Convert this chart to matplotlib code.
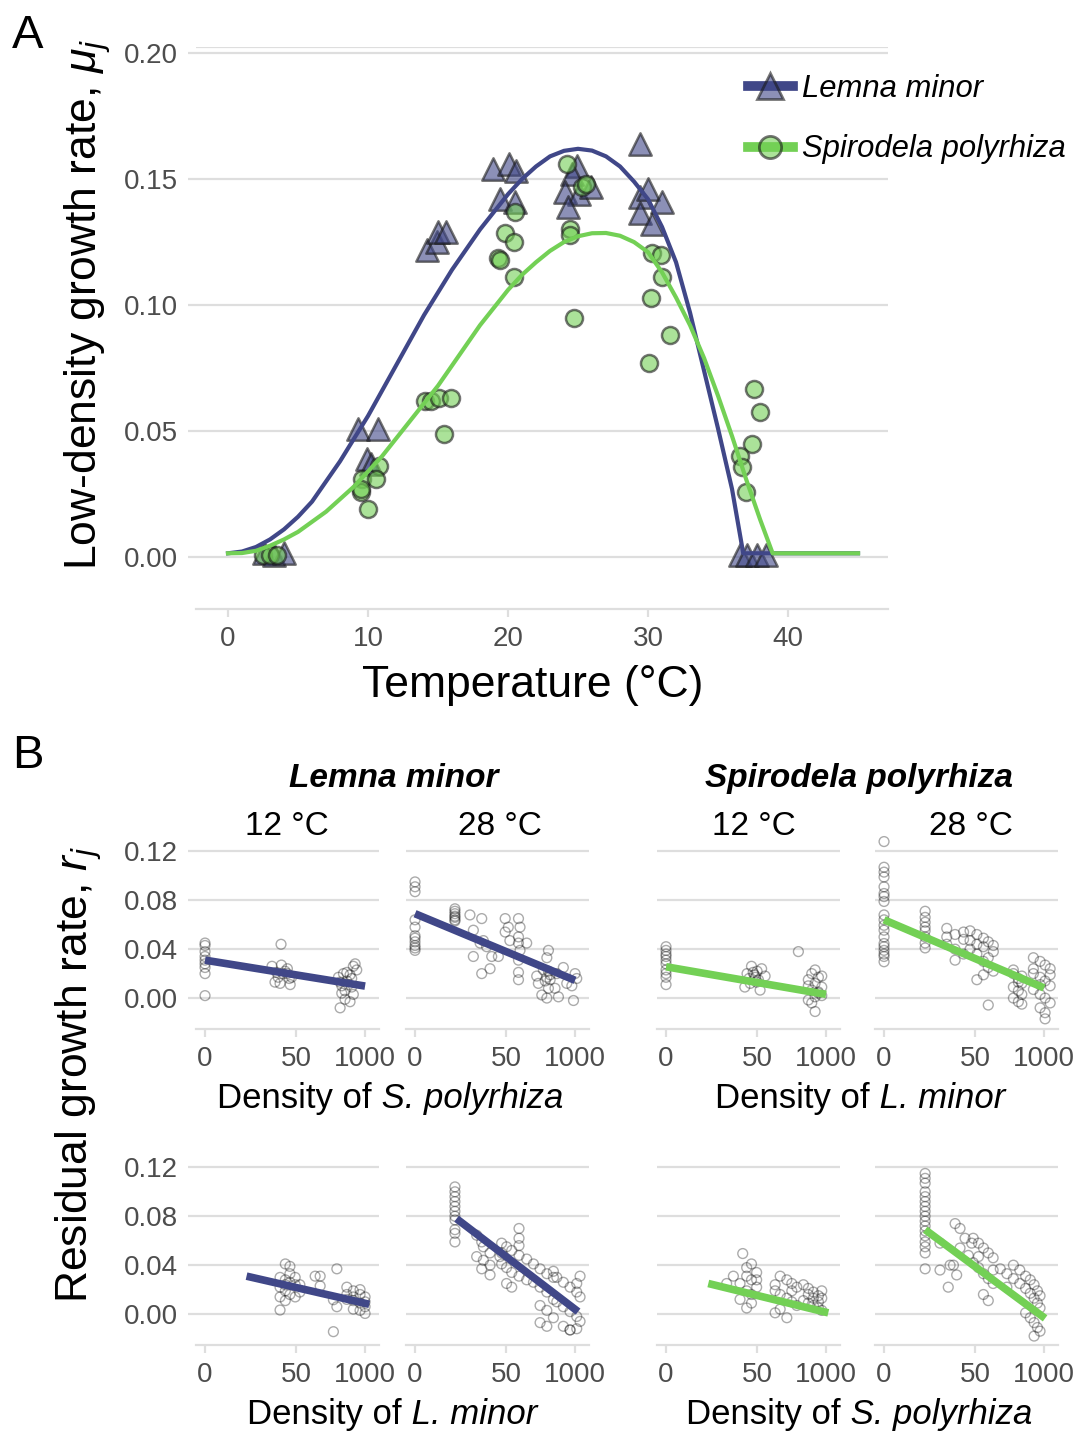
import numpy as np
import matplotlib
matplotlib.use('Agg')
import matplotlib.pyplot as plt
from matplotlib.lines import Line2D
from matplotlib.colors import to_rgba

plt.rcParams['font.family'] = ['Liberation Sans', 'DejaVu Sans']
plt.rcParams['mathtext.fontset'] = 'custom'
plt.rcParams['mathtext.rm'] = 'Liberation Sans'
plt.rcParams['mathtext.it'] = 'Liberation Sans:italic'
plt.rcParams['mathtext.bf'] = 'Liberation Sans:bold'

# ---- panel A: low-density growth rate vs temperature ----
lemna_T = [2.6, 3.3, 4.0, 9.3, 10.7, 9.9, 10.2, 14.2, 14.9, 15.0, 15.6, 18.9, 20.1, 20.6,
           19.4, 20.5, 24.9, 24.6, 24.1, 25.1, 25.9, 24.3, 29.4, 29.4, 30.0, 31.0, 29.4,
           30.3, 36.6, 37.1, 37.8, 38.4]
lemna_mu = [0.0015, 0.001, 0.0015, 0.051, 0.051, 0.039, 0.037, 0.122, 0.125, 0.129, 0.129,
            0.154, 0.156, 0.153, 0.142, 0.141, 0.155, 0.152, 0.145, 0.144, 0.147, 0.139,
            0.164, 0.143, 0.146, 0.141, 0.1365, 0.132, 0.001, 0.001, 0.001, 0.001]

spiro_T = [2.5, 3.0, 3.5, 9.6, 9.5, 10.0, 10.8, 10.6, 9.5, 14.1, 14.5, 15.1, 15.9, 15.4,
           20.5, 19.8, 20.4, 19.3, 19.4, 20.4, 24.2, 25.3, 25.6, 24.4, 24.4, 24.7, 30.3,
           30.9, 31.0, 30.2, 31.6, 30.1, 37.6, 38.0, 37.4, 36.6, 36.7, 37.0]
spiro_mu = [0.0008, 0.0008, 0.0008, 0.031, 0.026, 0.019, 0.036, 0.031, 0.027, 0.062, 0.062,
            0.063, 0.063, 0.049, 0.137, 0.1286, 0.125, 0.1186, 0.118, 0.111, 0.156, 0.147,
            0.148, 0.130, 0.128, 0.095, 0.1206, 0.120, 0.111, 0.103, 0.088, 0.077, 0.0667,
            0.0575, 0.045, 0.040, 0.0357, 0.026]

lemna_curve_T = [0, 1, 2, 3, 4, 5, 6, 7, 8, 9, 10, 11, 12, 13, 14, 15, 16, 17, 18, 19, 20,
                 21, 22, 23, 24, 25, 26, 27, 28, 29, 30, 31, 32, 33, 34, 35, 36, 36.8, 45]
lemna_curve_mu = [0.0015, 0.0022, 0.004, 0.007, 0.011, 0.016, 0.022, 0.030, 0.038, 0.047,
                  0.056, 0.066, 0.076, 0.086, 0.096, 0.105, 0.114, 0.122, 0.130, 0.137,
                  0.144, 0.150, 0.155, 0.159, 0.1612, 0.162, 0.1613, 0.159, 0.155, 0.149,
                  0.142, 0.131, 0.117, 0.097, 0.074, 0.051, 0.027, 0.0015, 0.0015]

spiro_curve_T = [0, 1, 2, 3, 4, 5, 6, 7, 8, 9, 10, 11, 12, 13, 14, 15, 16, 17, 18, 19, 20,
                 21, 22, 23, 24, 25, 26, 27, 28, 29, 30, 31, 32, 33, 34, 35, 36, 37, 38,
                 38.9, 45]
spiro_curve_mu = [0.0015, 0.0016, 0.0025, 0.0045, 0.007, 0.010, 0.014, 0.018, 0.023, 0.028,
                  0.034, 0.040, 0.047, 0.054, 0.061, 0.068, 0.076, 0.084, 0.092, 0.099,
                  0.106, 0.112, 0.117, 0.1215, 0.125, 0.1273, 0.1285, 0.1286, 0.1275, 0.1250,
                  0.121, 0.113, 0.103, 0.092, 0.079, 0.064, 0.048, 0.031, 0.015, 0.0015,
                  0.0015]

# ---- panel B: residual growth rate vs density (top row: interspecific) ----
lm12_dens = [0]*9 + [17, 19.5, 24.5, 25.6, 30.6, 34, 38.5, 41, 21, 28, 34, 26, 22.5, 37] + \
            [316, 340, 365, 392, 420, 454, 487, 522, 561, 602, 651, 698, 454, 420, 365, 522,
             561, 602, 340]
lm12_r = [0.045, 0.043, 0.038, 0.034, 0.031, 0.028, 0.025, 0.020, 0.002] + \
         [0.026, 0.013, 0.012, 0.044, 0.022, 0.020, 0.011, 0.017, 0.021, 0.020, 0.024, 0.027,
          0.017, 0.016] + \
         [0.017, 0.013, 0.004, 0.020, 0.006, 0.021, 0.011, 0.019, 0.009, 0.026, 0.028, 0.023,
          0.014, -0.001, 0.010, -0.003, 0.016, 0.003, -0.008]
lm12_fit_d = [0, 1000]
lm12_fit_r = [0.031, 0.0098]

lm28_dens = [0]*11 + [4.6]*7 + [9.7, 16.8, 11.4, 18.1, 11.4, 16.8, 24.5, 26.4, 35.5, 21, 15.6] + \
            [48, 55, 48, 86, 92, 86, 86, 92, 86, 86, 86, 123, 59] + \
            [316, 295, 254, 190, 237, 295, 316, 454, 487, 602, 698, 870, 934, 1000, 1075, 204,
             340, 420, 295, 275, 340, 316]
lm28_r = [0.095, 0.091, 0.087, 0.064, 0.058, 0.051, 0.049, 0.046, 0.043, 0.041, 0.039] + \
         [0.073, 0.071, 0.069, 0.067, 0.066, 0.064, 0.063] + \
         [0.068, 0.065, 0.0555, 0.047, 0.034, 0.020, 0.024, 0.034, 0.034, 0.042, 0.045] + \
         [0.065, 0.058, 0.054, 0.065, 0.058, 0.050, 0.045, 0.039, 0.031, 0.021, 0.015, 0.045,
          0.047] + \
         [0.039, 0.033, 0.023, 0.018, 0.0025, 0.0, 0.008, 0.020, 0.001, 0.025, 0.012, 0.010,
          -0.002, 0.020, 0.016, 0.012, 0.015, 0.008, 0.017, 0.014, 0.019, 0.022]
lm28_fit_d = [0, 1000]
lm28_fit_r = [0.069, 0.0145]

sp12_dens = [0]*10 + [32, 39, 46, 37, 53, 61, 71, 57, 29, 42, 49, 44, 50, 35] + [302] + \
            [622, 538, 718, 464, 622, 830, 538, 718, 622, 464, 538, 622, 830, 464, 718, 830]
sp12_r = [0.042, 0.039, 0.036, 0.034, 0.031, 0.028, 0.023, 0.020, 0.017, 0.011] + \
         [0.020, 0.026, 0.017, 0.012, 0.015, 0.024, 0.018, 0.0065, 0.009, 0.021, 0.013, 0.019,
          0.022, 0.016] + [0.038] + \
         [0.023, 0.020, 0.017, 0.015, 0.012, 0.009, 0.0065, 0.004, 0.001, -0.0016, -0.004,
          -0.011, 0.018, 0.010, 0.005, 0.002]
sp12_fit_d = [0, 1000]
sp12_fit_r = [0.0256, 0.003]

sp28_dens = [0]*19 + [4.9]*8 + [14, 20.5, 30, 14, 20.5, 30, 20.5, 14, 30] + \
            [40, 54, 72, 89, 111, 40, 54, 72, 89, 111, 72, 54, 89, 40, 72, 111, 54, 89] + \
            [265, 329, 382, 265, 329, 382, 265, 329, 382, 265, 329, 382] + \
            [630, 843, 1045, 1300, 630, 843, 1045, 1300, 630, 843, 1045, 1300, 843, 1045, 1045,
             630, 1300, 843]
sp28_r = [0.128, 0.107, 0.103, 0.099, 0.091, 0.0855, 0.083, 0.079, 0.068, 0.064, 0.0595,
          0.0555, 0.050, 0.0446, 0.042, 0.039, 0.036, 0.034, 0.0297] + \
         [0.071, 0.066, 0.062, 0.058, 0.055, 0.050, 0.045, 0.041] + \
         [0.057, 0.052, 0.048, 0.044, 0.040, 0.036, 0.031, 0.050, 0.054] + \
         [0.055, 0.052, 0.049, 0.046, 0.043, 0.040, 0.036, 0.030, 0.025, 0.022, 0.019, 0.015,
          -0.0057, 0.047, 0.042, 0.038, 0.044, 0.033] + \
         [0.020, 0.016, 0.012, 0.009, 0.006, 0.003, 0.000, -0.003, -0.005, 0.023, 0.013, 0.018] + \
         [0.033, 0.030, 0.027, 0.024, 0.020, 0.017, 0.014, 0.010, 0.007, 0.003, 0.000, -0.004,
          -0.008, -0.012, -0.017, 0.024, 0.019, 0.011]
sp28_fit_d = [0, 1000]
sp28_fit_r = [0.064, 0.0083]

# ---- panel B bottom row: intraspecific density ----
lm12b_dens = [31, 38, 24.5, 31, 38, 48, 24.5, 31, 38, 48, 31, 24.5, 59, 48, 38, 24.5, 59, 31] + \
             [115, 143, 143, 295, 254, 295, 254] + \
             [454, 602, 805, 1000, 454, 602, 805, 1000, 602, 805, 1000, 454, 805, 602, 1000]
lm12b_r = [0.041, 0.039, 0.030, 0.028, 0.026, 0.024, 0.022, 0.019, 0.016, 0.014, 0.011, 0.0033,
           0.024, 0.030, 0.033, 0.014, 0.018, 0.024] + \
          [0.031, 0.031, 0.023, 0.037, 0.0117, 0.006, -0.0144] + \
          [0.022, 0.019, 0.016, 0.014, 0.012, 0.011, 0.009, 0.006, 0.004, 0.003, 0.0005, 0.016,
           0.020, 0.014, 0.010]
lm12b_fit_d = [5, 1200]
lm12b_fit_r = [0.031, 0.008]

lm28b_dens = [4.6]*11 + [13.3, 16.8, 18.1, 24.5, 13.3, 18.1, 24.5, 16.8, 24.5, 38] + \
             [41, 51, 64, 88, 123, 41, 51, 64, 88, 123, 51, 64, 88, 88, 88, 41] + \
             [165, 220, 295, 392, 165, 220, 295, 392, 220, 295, 392, 220, 295, 392] + \
             [454, 602, 805, 1075, 1240, 454, 602, 805, 1075, 1240, 602, 805, 1075, 1240, 805, 1075]
lm28b_r = [0.104, 0.100, 0.096, 0.092, 0.088, 0.084, 0.080, 0.077, 0.069, 0.066, 0.059] + \
          [0.0645, 0.059, 0.055, 0.050, 0.047, 0.044, 0.040, 0.037, 0.032, 0.047] + \
          [0.058, 0.055, 0.052, 0.048, 0.045, 0.041, 0.038, 0.034, 0.031, 0.028, 0.025, 0.022,
           0.070, 0.062, 0.056, 0.050] + \
          [0.041, 0.037, 0.033, 0.030, 0.026, 0.022, 0.018, 0.012, 0.007, 0.003, -0.003, -0.007,
           -0.010, 0.035] + \
          [0.030, 0.026, 0.022, 0.018, 0.014, 0.010, 0.006, 0.002, -0.002, -0.006, -0.010,
           -0.013, 0.025, 0.031, -0.013, -0.012]
lm28b_fit_d = [5, 1140]
lm28b_fit_r = [0.078, 0.002]

sp12b_dens = [26.4, 39, 31.5, 49, 17.3, 39, 23.4, 49, 31.5, 39, 23.4, 39, 31.5, 12.7, 49, 31.5] + \
             [110, 137, 183, 227, 282, 110, 137, 183, 227, 282, 137, 110, 183, 227] + \
             [375, 464, 578, 718, 830, 375, 464, 578, 718, 830, 578, 718, 464, 830]
sp12b_r = [0.0495, 0.041, 0.038, 0.034, 0.031, 0.028, 0.025, 0.022, 0.019, 0.016, 0.012, 0.009,
           0.005, 0.025, 0.028, 0.031] + \
          [0.024, 0.031, 0.028, 0.025, 0.022, 0.019, 0.016, 0.013, 0.010, 0.007, 0.004, 0.001,
           -0.003, 0.019] + \
          [0.024, 0.021, 0.018, 0.015, 0.013, 0.011, 0.009, 0.007, 0.005, 0.003, 0.013, 0.010,
           0.016, 0.019]
sp12b_fit_d = [5.2, 1100]
sp12b_fit_r = [0.025, 0.001]

sp28b_dens = [4.9]*17 + [20.5, 25.6, 10.2, 16.3, 15, 19, 25.6, 32, 37, 43, 10.2, 22] + \
             [46, 58, 72, 89, 110, 46, 58, 72, 89, 110, 72, 89, 58, 110] + \
             [150, 200, 265, 350, 450, 550, 650, 750, 840, 450, 550, 650, 750, 840, 650, 265, 350,
              550, 650, 750, 840, 200, 450]
sp28b_r = [0.115, 0.111, 0.107, 0.100, 0.096, 0.092, 0.088, 0.084, 0.080, 0.076, 0.072, 0.068,
           0.064, 0.059, 0.055, 0.050, 0.037] + \
          [0.074, 0.070, 0.058, 0.040, 0.022, 0.040, 0.054, 0.062, 0.048, 0.058, 0.036, 0.032] + \
          [0.062, 0.058, 0.054, 0.050, 0.046, 0.042, 0.038, 0.033, 0.029, 0.025, 0.016, 0.011,
           0.047, 0.036] + \
          [0.037, 0.033, 0.029, 0.025, 0.021, 0.017, 0.013, 0.009, 0.005, 0.001, -0.003, -0.007,
           -0.011, -0.014, -0.018, 0.040, 0.036, 0.028, 0.024, 0.019, 0.015, 0.022, 0.031]
sp28b_fit_d = [4.9, 1045]
sp28b_fit_r = [0.069, -0.0035]

density_ticks = [0, 50, 1000]
temp_labels = ['12 °C', '28 °C', '12 °C', '28 °C']

LEMNA = '#404788'
SPIRO = '#73D055'
GRID = '#DEDEDE'
TICKTXT = '#4D4D4D'
EDGE = '#1a1a1a'

W, H = 1078, 1433
fig = plt.figure(figsize=(W / 100, H / 100), dpi=100)
renderer = fig.canvas.get_renderer()


def px_axes(l, t, r, b):
    return fig.add_axes([l / W, 1 - b / H, (r - l) / W, (b - t) / H])


def fig_text(x, y, s, **kw):
    return fig.text(x / W, 1 - y / H, s, **kw)


def density_label(xc, y, species, size=25):
    # "Density of" upright + species name italic, centred as one line
    t1 = fig_text(0, y, 'Density of', fontsize=size, va='baseline')
    t2 = fig_text(0, y, ' ' + species, fontsize=size, fontstyle='italic', va='baseline')
    w1 = t1.get_window_extent(renderer).width
    w2 = t2.get_window_extent(renderer).width
    x0 = xc - (w1 + w2) / 2
    t1.set_x(x0 / W)
    t2.set_x((x0 + w1) / W)


def style(ax):
    for s in ['top', 'right', 'left']:
        ax.spines[s].set_visible(False)
    ax.spines['bottom'].set_color(GRID)
    ax.spines['bottom'].set_linewidth(1.6)
    ax.grid(axis='y', color=GRID, lw=1.6)
    ax.grid(axis='x', visible=False)
    ax.set_axisbelow(True)
    ax.tick_params(colors=GRID, labelcolor=TICKTXT, width=1.6, labelsize=20)
    ax.tick_params(axis='x', length=6, pad=6)
    ax.tick_params(axis='y', length=6, pad=7)


# ---------------- panel A ----------------
ax = px_axes(196, 47, 888, 609)
style(ax)
ax.scatter(lemna_T, lemna_mu, marker='^', s=260, facecolor=to_rgba(LEMNA, 0.6),
           edgecolor=to_rgba(EDGE, 0.6), lw=1.8, zorder=3)
ax.scatter(spiro_T, spiro_mu, marker='o', s=150, facecolor=to_rgba(SPIRO, 0.6),
           edgecolor=to_rgba(EDGE, 0.6), lw=1.8, zorder=3)
ax.plot(lemna_curve_T, lemna_curve_mu, color=LEMNA, lw=3, zorder=4)
ax.plot(spiro_curve_T, spiro_curve_mu, color=SPIRO, lw=3, zorder=4)
ax.axhline(0.2024, color=GRID, lw=1.6, zorder=0)
ax.set_xlim(-2.286, 47.14)
ax.set_ylim(-0.0206, 0.2024)
ax.set_xticks([0, 10, 20, 30, 40])
ax.set_yticks([0, 0.05, 0.10, 0.15, 0.20])
ax.set_yticklabels(['%.2f' % v for v in [0, 0.05, 0.10, 0.15, 0.20]])

h1 = (Line2D([], [], color=LEMNA, lw=7),
      Line2D([], [], ls='none', marker='^', markersize=19, markerfacecolor=to_rgba(LEMNA, 0.6),
             markeredgecolor=to_rgba(EDGE, 0.6), markeredgewidth=2))
h2 = (Line2D([], [], color=SPIRO, lw=7),
      Line2D([], [], ls='none', marker='o', markersize=16, markerfacecolor=to_rgba(SPIRO, 0.6),
             markeredgecolor=to_rgba(EDGE, 0.6), markeredgewidth=2))
fig.legend([h1, h2], ['Lemna minor', 'Spirodela polyrhiza'], loc='upper left',
           bbox_to_anchor=(748 / W, 1 - 74 / H), frameon=False, borderpad=0,
           borderaxespad=0, handlelength=1.45, handletextpad=0.3, labelspacing=0.98,
           prop={'size': 22.3, 'style': 'italic'})

fig_text(12, 48, 'A', fontsize=34, va='baseline')
fig_text(533, 697, 'Temperature (°C)', fontsize=32, ha='center', va='baseline')
fig_text(97, 304, r'Low-density growth rate, $\mu_j$', fontsize=32, rotation=90,
         rotation_mode='anchor', ha='center', va='baseline')

# ---------------- panel B ----------------
panels = [
    (lm12_dens, lm12_r, lm12_fit_d, lm12_fit_r, LEMNA),
    (lm28_dens, lm28_r, lm28_fit_d, lm28_fit_r, LEMNA),
    (sp12_dens, sp12_r, sp12_fit_d, sp12_fit_r, SPIRO),
    (sp28_dens, sp28_r, sp28_fit_d, sp28_fit_r, SPIRO),
    (lm12b_dens, lm12b_r, lm12b_fit_d, lm12b_fit_r, LEMNA),
    (lm28b_dens, lm28b_r, lm28b_fit_d, lm28b_fit_r, LEMNA),
    (sp12b_dens, sp12b_r, sp12b_fit_d, sp12b_fit_r, SPIRO),
    (sp28b_dens, sp28b_r, sp28b_fit_d, sp28b_fit_r, SPIRO),
]
col_left = [196, 406, 657, 875]
row_top = [833, 1149]
panel_w, panel_h = 183, 196

for i, (d, r, fd, fr, col) in enumerate(panels):
    row, c = divmod(i, 4)
    l = col_left[c]
    t = row_top[row]
    axb = px_axes(l, t, l + panel_w, t + panel_h)
    style(axb)
    axb.set_xscale('function', functions=(np.log1p, np.expm1))
    axb.scatter(d, r, s=50, facecolor='none', edgecolor=to_rgba('black', 0.33), lw=1.0,
                zorder=2)
    axb.plot(fd, fr, color=col, lw=5.5, solid_capstyle='butt', zorder=3)
    axb.set_xlim(np.expm1(-0.39), np.expm1(7.51))
    axb.set_ylim(-0.0253, 0.135)
    axb.set_xticks(density_ticks)
    axb.set_xticklabels([str(v) for v in density_ticks])
    axb.set_yticks([0, 0.04, 0.08, 0.12])
    axb.xaxis.set_minor_locator(matplotlib.ticker.NullLocator())
    if c == 0:
        axb.set_yticklabels(['%.2f' % v for v in [0, 0.04, 0.08, 0.12]])
    else:
        axb.tick_params(axis='y', left=False, labelleft=False)

fig_text(12, 768, 'B', fontsize=34, va='baseline')
fig_text(394, 787, 'Lemna minor', fontsize=24, fontweight='bold', fontstyle='italic',
         ha='center', va='baseline')
fig_text(859, 787, 'Spirodela polyrhiza', fontsize=24, fontweight='bold', fontstyle='italic',
         ha='center', va='baseline')
for xc, lab in zip([287, 500, 754, 971], temp_labels):
    fig_text(xc, 835, lab, fontsize=24, ha='center', va='baseline')

density_label(390, 1108, 'S. polyrhiza')
density_label(860, 1108, 'L. minor')
density_label(392, 1424, 'L. minor')
density_label(859, 1424, 'S. polyrhiza')
fig_text(88, 1074, r'Residual growth rate, $r_j$', fontsize=32, rotation=90,
         rotation_mode='anchor', ha='center', va='baseline')

fig.savefig('out.png', dpi=100)
